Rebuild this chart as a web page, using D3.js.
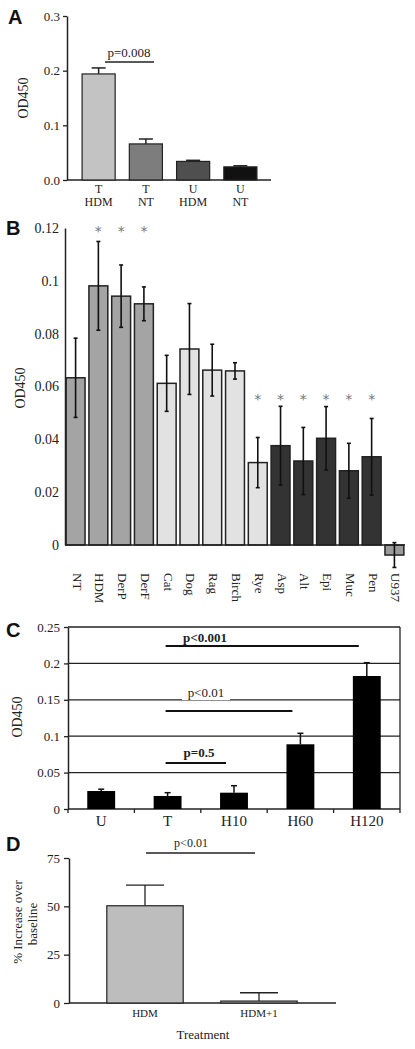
<!DOCTYPE html>
<html><head><meta charset="utf-8">
<script src="https://cdn.jsdelivr.net/npm/d3@7"></script>
<style>
body{margin:0;background:#fff;}
svg{display:block;}
text{font-family:"Liberation Serif","Times New Roman",serif;fill:#222;}
text.panel{font-family:"Liberation Sans",Arial,sans-serif;font-weight:bold;font-size:20px;fill:#111;}
text.star{font-family:"DejaVu Sans",sans-serif;fill:#777;}
</style></head>
<body>
<script>
// ---------- Panel A data ----------
const aCatTop = ["T","T","U","U"];
const aCatBottom = ["HDM","NT","HDM","NT"];
const aValues = [0.194, 0.066, 0.034, 0.024];
const aErrors = [0.011, 0.009, 0.002, 0.002];
const aTicks = [0, 0.1, 0.2, 0.3];

// ---------- Panel B data ----------
const bCategories = ["NT","HDM","DerP","DerF","Cat","Dog","Rag","Birch","Rye","Asp","Alt","Epi","Muc","Pen","U937"];
const bValues = [0.0633,0.0981,0.0942,0.0913,0.0612,0.0742,0.0662,0.0659,0.0312,0.0376,0.0318,0.0404,0.0281,0.0334,-0.0038];
const bErrors = [0.0150,0.0168,0.0118,0.0064,0.0106,0.0172,0.0098,0.0031,0.0095,0.0149,0.0127,0.0120,0.0104,0.0145,0.0047];
const bGroup = ["mite","mite","mite","mite","epi","epi","pollen","pollen","pollen","mold","mold","mold","mold","mold","ctrl"];
const bSig = [false,true,true,true,false,false,false,false,true,true,true,true,true,true,false];
const bTicks = [0,0.02,0.04,0.06,0.08,0.1,0.12];

// ---------- Panel C data ----------
const cCategories = ["U","T","H10","H60","H120"];
const cValues = [0.0247,0.0179,0.0224,0.0889,0.1827];
const cErrors = [0.0025,0.0045,0.0096,0.0151,0.0183];
const cTicks = [0,0.05,0.1,0.15,0.2,0.25];
const cSigText = ["p<0.001","p<0.01","p=0.5"];
const cSigFrom = ["T","T","T"];
const cSigTo = ["H120","H60","H10"];
const cSigBold = [true,false,true];

// ---------- Panel D data ----------
const dCategories = ["HDM","HDM+1"];
const dValues = [50.3, 1.0];
const dErrors = [10.7, 4.3];
const dTicks = [0,25,50,75];

const svg = d3.select("body").append("svg").attr("width",415).attr("height",1049);

function styleAxis(g){
  g.attr("font-family",null);
  g.select(".domain").attr("stroke","#222").attr("stroke-width",1.5);
  g.selectAll(".tick line").attr("stroke","#222").attr("stroke-width",1.3);
  g.selectAll(".tick text").attr("fill","#333");
}

// ================= Panel A =================
(function(){
  const g = svg.append("g");
  const y = d3.scaleLinear().domain([0,0.3]).range([180,16]);
  const x = d3.scaleBand().domain(d3.range(aValues.length)).range([75,264]).paddingInner(0.3).paddingOuter(0.15);
  g.append("text").attr("class","panel").attr("x",8).attr("y",24).text("A");
  const ya = g.append("g").attr("transform","translate(67,0)")
    .call(d3.axisLeft(y).tickValues(aTicks).tickFormat(d3.format(".1f")).tickSize(4).tickSizeOuter(0).tickPadding(3));
  styleAxis(ya); ya.selectAll(".tick text").attr("font-size",13);
  g.append("line").attr("x1",67).attr("x2",271).attr("y1",y(0)).attr("y2",y(0)).attr("stroke","#222").attr("stroke-width",1.5);
  const colors = ["#c3c3c3","#7d7d7d","#4f4f4f","#111"];
  aValues.forEach((v,i)=>{
    const cx = x(i)+x.bandwidth()/2;
    g.append("line").attr("x1",cx).attr("x2",cx).attr("y1",y(v)).attr("y2",y(v+aErrors[i])).attr("stroke","#222").attr("stroke-width",1.5);
    g.append("line").attr("x1",cx-7).attr("x2",cx+7).attr("y1",y(v+aErrors[i])).attr("y2",y(v+aErrors[i])).attr("stroke","#222").attr("stroke-width",1.5);
  });
  g.selectAll("rect.bar").data(aValues).join("rect").attr("class","bar")
    .attr("x",(d,i)=>x(i)).attr("width",x.bandwidth())
    .attr("y",d=>y(d)).attr("height",d=>y(0)-y(d))
    .attr("fill",(d,i)=>colors[i]).attr("stroke","#222").attr("stroke-width",1.2);
  aCatTop.forEach((t,i)=>{
    const cx = x(i)+x.bandwidth()/2;
    g.append("text").attr("x",cx).attr("y",193).attr("text-anchor","middle").attr("font-size",12).text(t);
    g.append("text").attr("x",cx).attr("y",206).attr("text-anchor","middle").attr("font-size",12).text(aCatBottom[i]);
  });
  g.append("text").attr("transform","translate(28,98) rotate(-90)").attr("text-anchor","middle").attr("font-size",14).text("OD450");
  g.append("line").attr("x1",105).attr("x2",154).attr("y1",62).attr("y2",62).attr("stroke","#222").attr("stroke-width",1.5);
  g.append("text").attr("x",129).attr("y",57).attr("text-anchor","middle").attr("font-size",13).text("p=0.008");
})();

// ================= Panel B =================
(function(){
  const g = svg.append("g");
  const y = d3.scaleLinear().domain([0,0.12]).range([545,228]);
  const x = d3.scaleBand().domain(bCategories).range([65,405]).paddingInner(0.17).paddingOuter(0.05);
  g.append("text").attr("class","panel").attr("x",6).attr("y",235).text("B");
  const ya = g.append("g").attr("transform","translate(65,0)")
    .call(d3.axisLeft(y).tickValues(bTicks).tickFormat(d3.format("~g")).tickSize(0).tickSizeOuter(0).tickPadding(6));
  styleAxis(ya); ya.selectAll(".tick text").attr("font-size",14);
  const colors = {mite:"#a4a4a4",epi:"#e2e2e2",pollen:"#e2e2e2",mold:"#333333",ctrl:"#9a9a9a"};
  const fill = (i)=> i===8 ? "#e2e2e2" : colors[bGroup[i]];
  g.selectAll("rect.bar").data(bValues).join("rect").attr("class","bar")
    .attr("x",(d,i)=>x(bCategories[i])).attr("width",x.bandwidth())
    .attr("y",d=>y(Math.max(0,d))).attr("height",d=>Math.abs(y(0)-y(d)))
    .attr("fill",(d,i)=>fill(i)).attr("stroke","#222").attr("stroke-width",1.5);
  g.append("line").attr("x1",65).attr("x2",405).attr("y1",y(0)).attr("y2",y(0)).attr("stroke","#222").attr("stroke-width",1.5);
  bValues.forEach((v,i)=>{
    const cx = x(bCategories[i])+x.bandwidth()/2;
    const e = bErrors[i];
    g.append("line").attr("x1",cx).attr("x2",cx).attr("y1",y(v-e)).attr("y2",y(v+e)).attr("stroke","#111").attr("stroke-width",1.6);
    [v-e,v+e].forEach(t=>g.append("line").attr("x1",cx-2).attr("x2",cx+2).attr("y1",y(t)).attr("y2",y(t)).attr("stroke","#111").attr("stroke-width",1.6));
    if(bSig[i]){
      const sy = i<5 ? y(0.12)+8 : y(0.0565)+8;
      g.append("text").attr("class","star").attr("x",cx).attr("y",sy).attr("text-anchor","middle").attr("font-size",14).text("*");
    }
    g.append("text").attr("transform",`translate(${cx},573) rotate(90)`).attr("dominant-baseline","middle")
      .attr("font-size",13).attr("fill","#333").text(bCategories[i]);
  });
  g.append("text").attr("transform","translate(25,388) rotate(-90)").attr("text-anchor","middle").attr("font-size",14).text("OD450");
})();

// ================= Panel C =================
(function(){
  const g = svg.append("g");
  const y = d3.scaleLinear().domain([0,0.25]).range([809,627]);
  const x = d3.scaleBand().domain(cCategories).range([68,400]).paddingInner(0.58).paddingOuter(0.29);
  g.append("text").attr("class","panel").attr("x",6).attr("y",637).text("C");
  g.selectAll("line.grid").data(cTicks.filter(t=>t>0)).join("line").attr("class","grid")
    .attr("x1",68).attr("x2",400).attr("y1",d=>y(d)).attr("y2",d=>y(d)).attr("stroke","#222").attr("stroke-width",1.3);
  g.append("line").attr("x1",400).attr("x2",400).attr("y1",y(0.25)).attr("y2",y(0)).attr("stroke","#222").attr("stroke-width",1.3);
  const ya = g.append("g").attr("transform","translate(68,0)")
    .call(d3.axisLeft(y).tickValues(cTicks).tickFormat(d3.format("~g")).tickSize(4).tickSizeOuter(0).tickPadding(4));
  styleAxis(ya); ya.selectAll(".tick text").attr("font-size",13);
  g.append("line").attr("x1",68).attr("x2",400).attr("y1",y(0)).attr("y2",y(0)).attr("stroke","#222").attr("stroke-width",1.5);
  const bounds = cCategories.map(c=>x(c)-x.step()*x.paddingOuter()).concat([400]);
  g.selectAll("line.xt").data(bounds).join("line").attr("class","xt")
    .attr("x1",d=>d).attr("x2",d=>d).attr("y1",y(0)).attr("y2",y(0)+4).attr("stroke","#222").attr("stroke-width",1.3);
  cValues.forEach((v,i)=>{
    const cx = x(cCategories[i])+x.bandwidth()/2;
    const t = y(v+cErrors[i]);
    g.append("line").attr("x1",cx).attr("x2",cx).attr("y1",y(v)).attr("y2",t).attr("stroke","#111").attr("stroke-width",1.5);
    g.append("line").attr("x1",cx-3).attr("x2",cx+3).attr("y1",t).attr("y2",t).attr("stroke","#111").attr("stroke-width",1.5);
  });
  g.selectAll("rect.bar").data(cValues).join("rect").attr("class","bar")
    .attr("x",(d,i)=>x(cCategories[i])).attr("width",x.bandwidth())
    .attr("y",d=>y(d)).attr("height",d=>y(0)-y(d)).attr("fill","#000");
  cCategories.forEach(c=>{
    g.append("text").attr("x",x(c)+x.bandwidth()/2).attr("y",826).attr("text-anchor","middle").attr("font-size",15).text(c);
  });
  g.append("text").attr("transform","translate(22,717) rotate(-90)").attr("text-anchor","middle").attr("font-size",14).text("OD450");
  const lineY = [646,711,763];
  const textY = [642,697,757];
  const textX = [205,206,199];
  cSigText.forEach((s,i)=>{
    const x1 = x(cSigFrom[i])+x.bandwidth()/2-2;
    const x2 = x(cSigTo[i])+x.bandwidth()/2-8;
    g.append("line").attr("x1",x1).attr("x2",x2).attr("y1",lineY[i]).attr("y2",lineY[i]).attr("stroke","#111").attr("stroke-width",2);
    g.append("rect").attr("x",textX[i]-24).attr("y",textY[i]-12).attr("width",48).attr("height",15).attr("fill","#fff");
    g.append("text").attr("x",textX[i]).attr("y",textY[i]).attr("text-anchor","middle").attr("font-size",13)
      .attr("font-weight",cSigBold[i]?"bold":"normal").attr("fill",cSigBold[i]?"#111":"#555").text(s);
  });
})();

// ================= Panel D =================
(function(){
  const g = svg.append("g");
  const y = d3.scaleLinear().domain([0,75]).range([1003,858]);
  const x = d3.scaleBand().domain(dCategories).range([88,316]).paddingInner(0.33).paddingOuter(0.165);
  g.append("text").attr("class","panel").attr("x",6).attr("y",851).text("D");
  const ya = g.append("g").attr("transform","translate(69,0)")
    .call(d3.axisLeft(y).tickValues(dTicks).tickSize(5).tickSizeOuter(0).tickPadding(4));
  styleAxis(ya); ya.selectAll(".tick text").attr("font-size",13);
  g.append("line").attr("x1",69).attr("x2",336).attr("y1",y(0)).attr("y2",y(0)).attr("stroke","#222").attr("stroke-width",1.5);
  dValues.forEach((v,i)=>{
    const cx = x(dCategories[i])+x.bandwidth()/2;
    const t = y(v+dErrors[i]);
    g.append("line").attr("x1",cx).attr("x2",cx).attr("y1",y(v)).attr("y2",t).attr("stroke","#222").attr("stroke-width",1.3);
    g.append("line").attr("x1",cx-19).attr("x2",cx+19).attr("y1",t).attr("y2",t).attr("stroke","#222").attr("stroke-width",1.3);
  });
  g.selectAll("rect.bar").data(dValues).join("rect").attr("class","bar")
    .attr("x",(d,i)=>x(dCategories[i])).attr("width",x.bandwidth())
    .attr("y",d=>y(d)).attr("height",d=>y(0)-y(d))
    .attr("fill","#bdbdbd").attr("stroke","#222").attr("stroke-width",1.2);
  dCategories.forEach(c=>{
    g.append("text").attr("x",x(c)+x.bandwidth()/2).attr("y",1017).attr("text-anchor","middle").attr("font-size",11).attr("fill","#333").text(c);
  });
  g.append("text").attr("x",203).attr("y",1039).attr("text-anchor","middle").attr("font-size",13).text("Treatment");
  g.append("text").attr("transform","translate(22,922) rotate(-90)").attr("text-anchor","middle").attr("font-size",13).text("% Increase over");
  g.append("text").attr("transform","translate(37,924) rotate(-90)").attr("text-anchor","middle").attr("font-size",13).text("baseline");
  g.append("line").attr("x1",146).attr("x2",255).attr("y1",853).attr("y2",853).attr("stroke","#222").attr("stroke-width",1.3);
  g.append("text").attr("x",191).attr("y",847).attr("text-anchor","middle").attr("font-size",12).attr("fill","#444").text("p<0.01");
})();
</script>
</body></html>
